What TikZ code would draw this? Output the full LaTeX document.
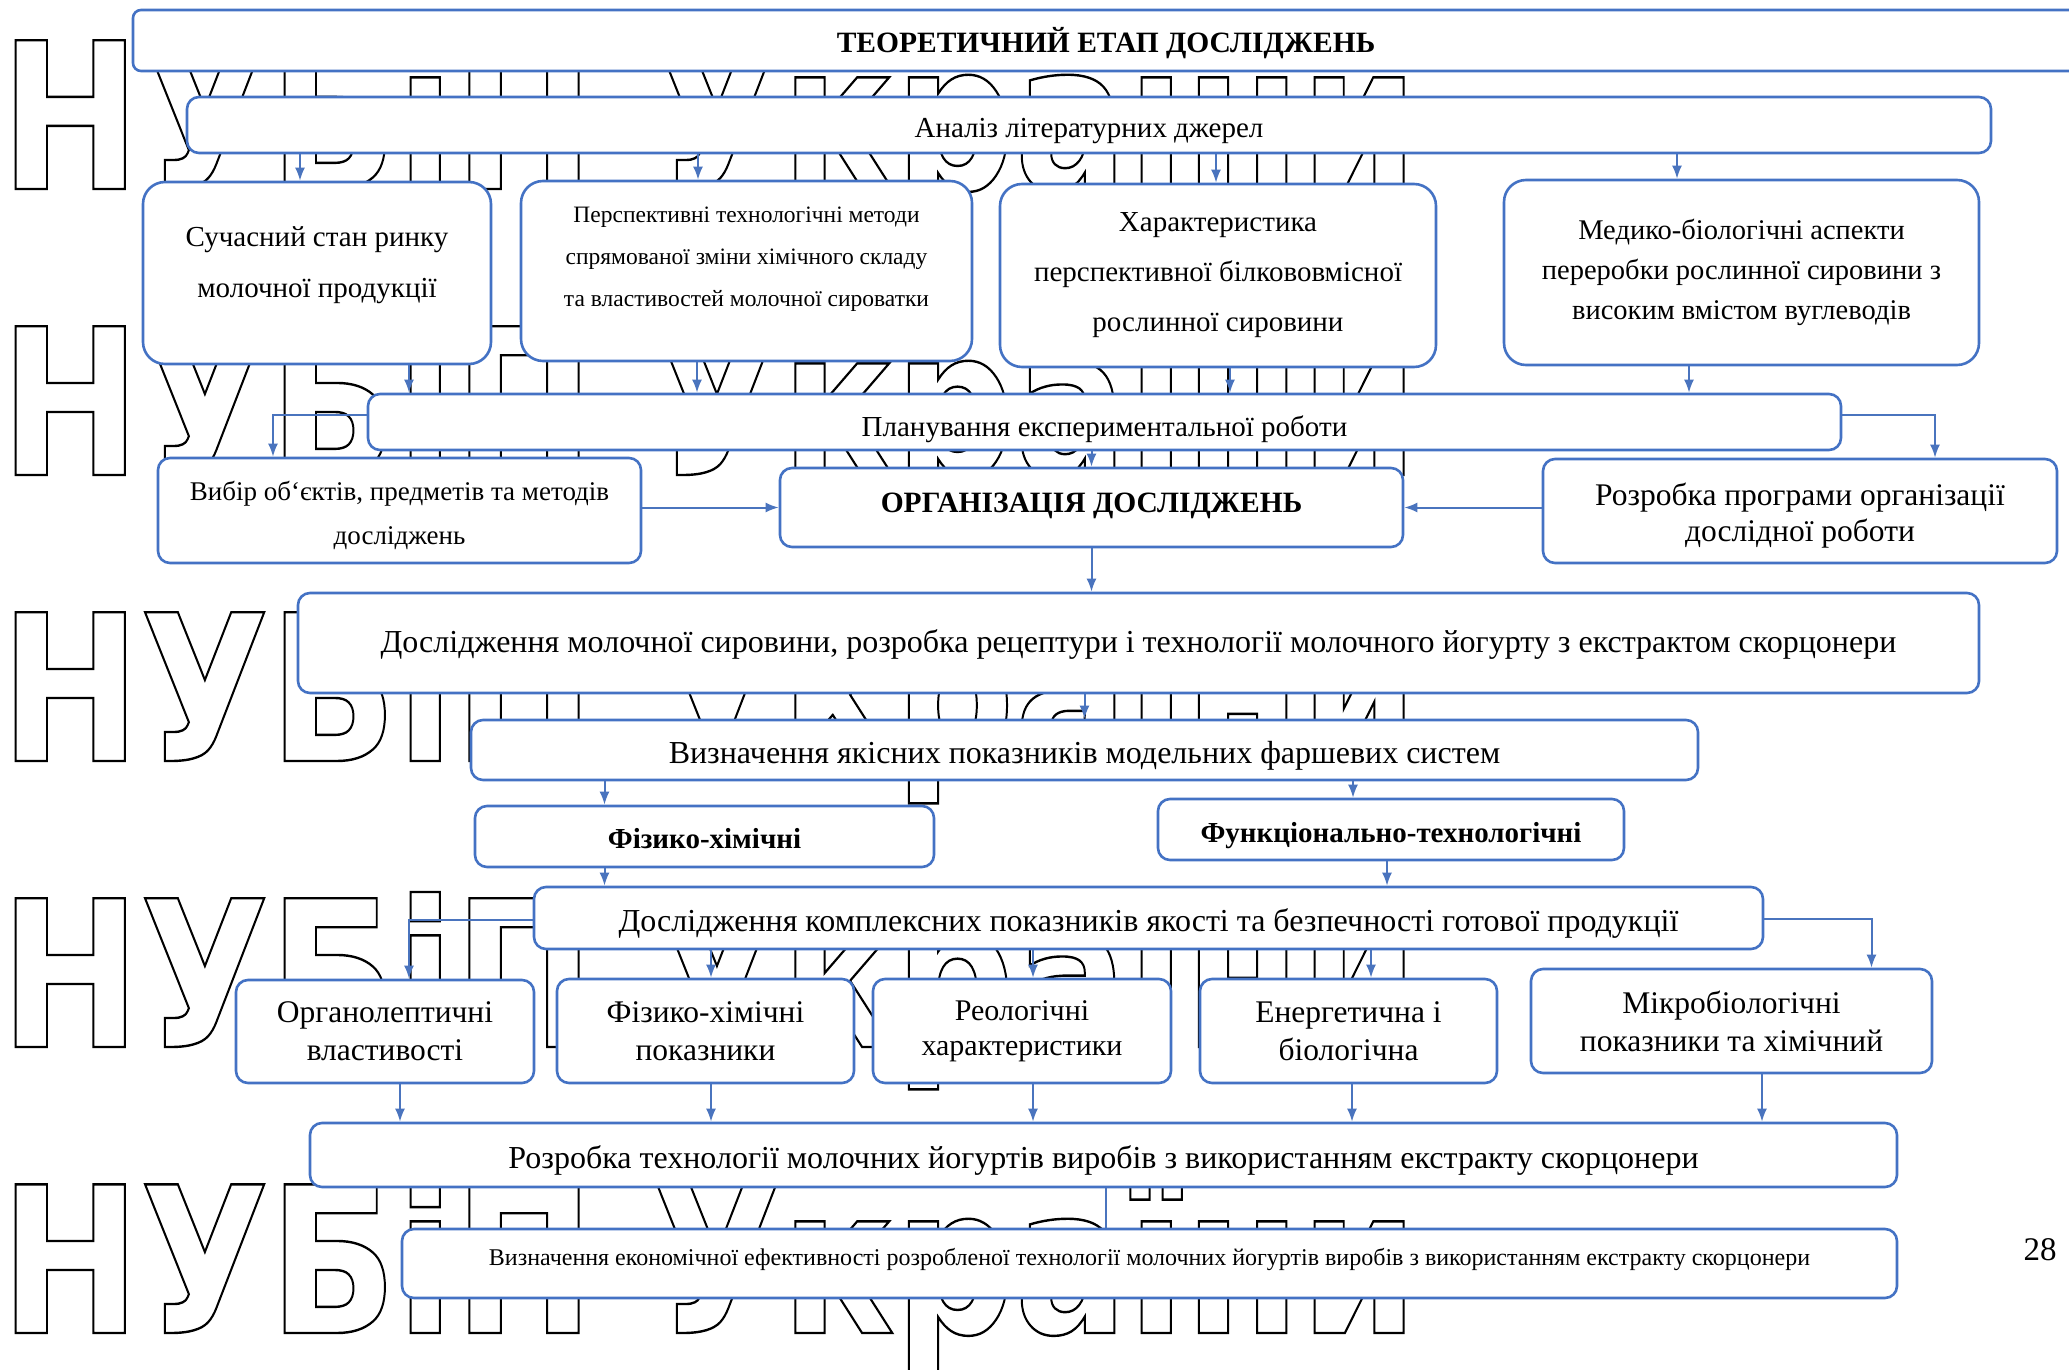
\documentclass[tikz,border=0pt]{standalone}
\usepackage{fontspec}
\setmainfont{Liberation Serif}
\newfontfamily\wmfont{DejaVu Sans}
\usepackage{graphicx}
\usetikzlibrary{arrows.meta}
\definecolor{bboxc}{RGB}{68,114,196}
\definecolor{arrc}{RGB}{74,116,190}
\newcommand{\fsz}[2]{\fontsize{#1}{#2}\selectfont}
\newcommand{\outl}[1]{\special{pdf:literal direct 1 Tr 2.4 w}#1\special{pdf:literal direct 0 Tr}}
\newcommand{\dstrut}[1]{\rule[-#1]{0pt}{#1}}
\newcommand{\hstrut}[1]{\rule{0pt}{#1}}
\begin{document}
\begin{tikzpicture}[x=1pt,y=-1pt,
  box/.style={draw=bboxc, line width=2.6pt, fill=white, rounded corners=12pt, inner sep=0pt, align=center, text=black},
  ty/.style={text height=#1pt, text depth=0pt},
  arr/.style={draw=arrc, line width=2pt, -{Latex[length=13pt,width=10pt]}},
  lin/.style={draw=arrc, line width=2pt},
  wm/.style={anchor=base west, inner sep=0pt}]
\useasboundingbox (0,0) rectangle (2069,1370);
\fill[white] (0,0) rectangle (2069,1370);

% watermark
\foreach \yy [count=\i] in {189,475,761,1047,1333}
  \node[wm] (wm\i) at (0,\yy) {\scalebox{0.82}[1]{\wmfont\bfseries\fontsize{204}{204}\selectfont\outl{НУБіП України}}};

% boxes
\node[box, ty=25, minimum width=1946pt, minimum height=61pt, rounded corners=8pt, font=\fsz{29.5}{33}\bfseries] (title) at (1106,40.5) {ТЕОРЕТИЧНИЙ ЕТАП ДОСЛІДЖЕНЬ};
\node[box, ty=26, minimum width=1804pt, minimum height=56pt, font=\fsz{29}{33}] (anal) at (1089,125) {Аналіз літературних джерел};

\node[box, minimum width=348pt, minimum height=182pt, rounded corners=22pt, font=\fsz{29}{51}] (s1) at (317,273) {Сучасний стан ринку\\молочної продукції\dstrut{22.4pt}};
\node[box, minimum width=451pt, minimum height=180pt, rounded corners=22pt, font=\fsz{23.5}{42}] (s2) at (746.5,271) {Перспективні технологічні методи\\спрямованої зміни хімічного складу\\та властивостей молочної сироватки\dstrut{29pt}};
\node[box, minimum width=436pt, minimum height=183pt, rounded corners=22pt, font=\fsz{29}{50}] (s3) at (1218,275.5) {Характеристика\\перспективної білкововмісної\\рослинної сировини};
\node[box, minimum width=475pt, minimum height=185pt, rounded corners=22pt, font=\fsz{28.5}{40}] (s4) at (1741.5,272.5) {Медико-біологічні аспекти\\переробки рослинної сировини з\\високим вмістом вуглеводів};

\node[box, ty=28, minimum width=1473pt, minimum height=56pt, font=\fsz{29}{33}] (P) at (1104.5,422) {Планування експериментальної роботи};
\node[box, minimum width=483pt, minimum height=105pt, font=\fsz{27}{44}] (V) at (399.5,510.5) {\hstrut{29pt}Вибір об`єктів, предметів та методів\\досліджень};
\node[box, ty=9, minimum width=623pt, minimum height=79pt, font=\fsz{29.5}{33}\bfseries] (O) at (1091.5,507.5) {ОРГАНІЗАЦІЯ ДОСЛІДЖЕНЬ};
\node[box, minimum width=514pt, minimum height=104pt, font=\fsz{31.5}{36}] (R) at (1800,511) {\hstrut{32pt}Розробка програми організації\\дослідної роботи};

\node[box, ty=18, minimum width=1681pt, minimum height=100pt, font=\fsz{32}{36}] (D) at (1138.5,643) {Дослідження молочної сировини, розробка рецептури і технології молочного йогурту з екстрактом скорцонери};
\node[box, ty=26, minimum width=1227pt, minimum height=60pt, font=\fsz{32}{36}] (Q) at (1084.5,750) {Визначення якісних показників модельних фаршевих систем};
\node[box, ty=23, minimum width=459pt, minimum height=61pt, font=\fsz{29}{33}\bfseries] (F1) at (704.5,836.5) {Фізико-хімічні};
\node[box, ty=25, minimum width=466pt, minimum height=61pt, font=\fsz{29}{33}\bfseries] (F2) at (1391,829.5) {Функціонально-технологічні};
\node[box, ty=26, minimum width=1229pt, minimum height=62pt, font=\fsz{32}{36}] (K) at (1148.5,918) {Дослідження комплексних показників якості та безпечності готової продукції};

\node[box, minimum width=298pt, minimum height=103pt, font=\fsz{31.5}{38}] (B1) at (385,1031.5) {Органолептичні\\властивості};
\node[box, minimum width=297pt, minimum height=104pt, font=\fsz{31.5}{38}] (B2) at (705.5,1031) {Фізико-хімічні\\показники};
\node[box, minimum width=298pt, minimum height=104pt, font=\fsz{30}{35}] (B3) at (1022,1031) {Реологічні\\характеристики};
\node[box, minimum width=297pt, minimum height=104pt, font=\fsz{31.5}{38}] (B4) at (1348.5,1031) {Енергетична і\\біологічна};
\node[box, minimum width=401pt, minimum height=104pt, font=\fsz{31.5}{38}] (B5) at (1731.5,1021) {Мікробіологічні\\показники та хімічний};

\node[box, ty=26, minimum width=1587pt, minimum height=64pt, font=\fsz{32}{36}] (Z) at (1103.5,1155) {Розробка технології молочних йогуртів виробів з використанням екстракту скорцонери};
\node[box, ty=3, minimum width=1495pt, minimum height=69pt, font=\fsz{24}{28}] (E) at (1149.5,1263.5) {Визначення економічної ефективності розробленої технології молочних йогуртів виробів з використанням екстракту скорцонери};

\node[inner sep=0pt, font=\fsz{33}{36}] (pg) at (2040,1250) {28};

% connectors
\draw[arr] ([xshift=-17pt]s1.north |- anal.south) -- ([xshift=-17pt]s1.north);
\draw[arr] ([xshift=-48.5pt]s2.north |- anal.south) -- ([xshift=-48.5pt]s2.north);
\draw[arr] ([xshift=-2pt]s3.north |- anal.south) -- ([xshift=-2pt]s3.north);
\draw[arr] ([xshift=-64.5pt]s4.north |- anal.south) -- ([xshift=-64.5pt]s4.north);

\draw[arr] ([xshift=92pt]s1.south) -- ([xshift=92pt]s1.south |- P.north);
\draw[arr] ([xshift=-49.5pt]s2.south) -- ([xshift=-49.5pt]s2.south |- P.north);
\draw[arr] ([xshift=12pt]s3.south) -- ([xshift=12pt]s3.south |- P.north);
\draw[arr] ([xshift=-52.5pt]s4.south) -- ([xshift=-52.5pt]s4.south |- P.north);

\draw[arr] ([yshift=7pt]P.west) -| ([xshift=-126.5pt]V.north);
\draw[arr] ([yshift=7pt]P.east) -| ([xshift=135pt]R.north);
\draw[arr] (O.north |- P.south) -- (O.north);
\draw[arr] (V.east |- O.west) -- (O.west);
\draw[arr] (R.west |- O.east) -- (O.east);
\draw[arr] (O.south) -- (O.south |- D.north);
\draw[arr] (Q.north |- D.south) -- (Q.north);

\draw[arr] ([xshift=-100pt]F1.north |- Q.south) -- ([xshift=-100pt]F1.north);
\draw[arr] ([xshift=-38pt]F2.north |- Q.south) -- ([xshift=-38pt]F2.north);
\draw[arr] ([xshift=-100pt]F1.south) -- ([xshift=-100pt]F1.south |- K.north);
\draw[arr] ([xshift=-4pt]F2.south) -- ([xshift=-4pt]F2.south |- K.north);

\draw[arr] ([yshift=-2pt]K.west) -| ([xshift=24pt]B1.north);
\draw[arr] ([xshift=5.5pt]B2.north |- K.south) -- ([xshift=5.5pt]B2.north);
\draw[arr] ([xshift=11pt]B3.north |- K.south) -- ([xshift=11pt]B3.north);
\draw[arr] ([xshift=22.5pt]B4.north |- K.south) -- ([xshift=22.5pt]B4.north);
\draw[arr] ([yshift=-1pt]K.east) -| ([xshift=140pt]B5.north);

\draw[arr] ([xshift=15pt]B1.south) -- ([xshift=15pt]B1.south |- Z.north);
\draw[arr] ([xshift=5.5pt]B2.south) -- ([xshift=5.5pt]B2.south |- Z.north);
\draw[arr] ([xshift=11pt]B3.south) -- ([xshift=11pt]B3.south |- Z.north);
\draw[arr] ([xshift=3.5pt]B4.south) -- ([xshift=3.5pt]B4.south |- Z.north);
\draw[arr] ([xshift=30.5pt]B5.south) -- ([xshift=30.5pt]B5.south |- Z.north);

\draw[lin] ([xshift=2.5pt]Z.south) -- ([xshift=2.5pt]Z.south |- E.north);
\end{tikzpicture}
\end{document}
